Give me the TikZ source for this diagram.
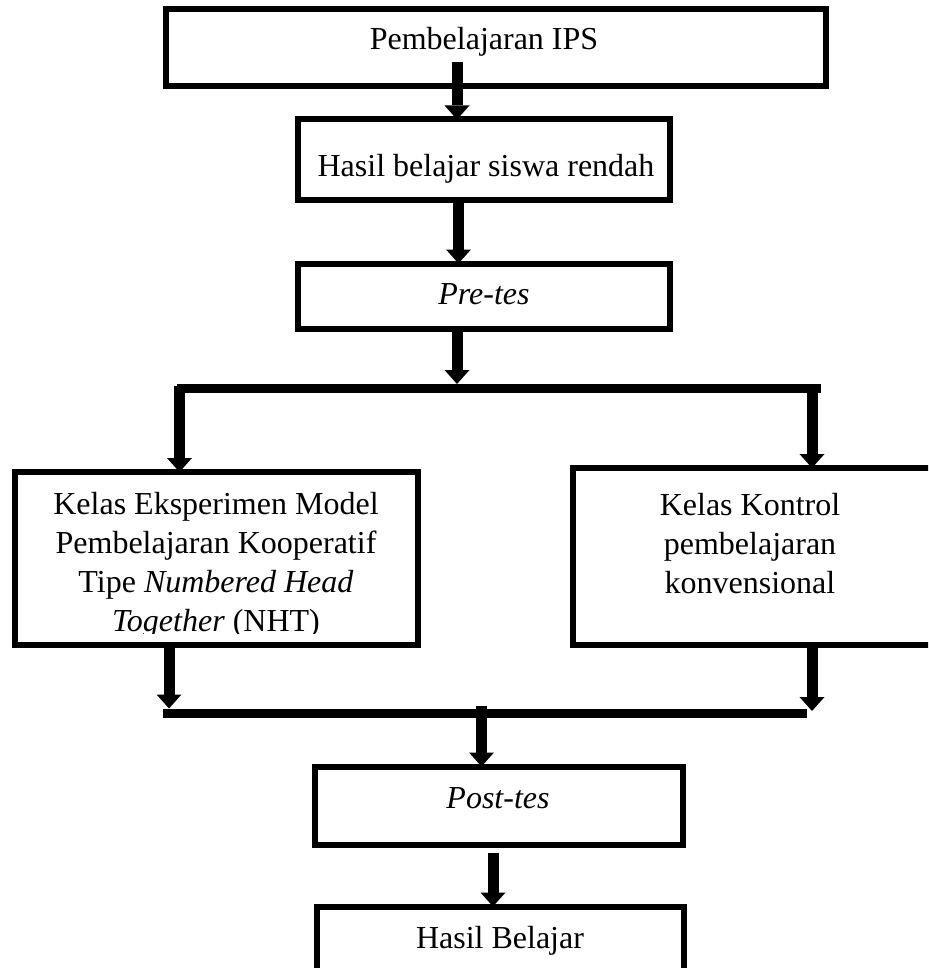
\documentclass[tikz,border=0pt]{standalone}
\usepackage{fontspec}
\setmainfont{Liberation Serif}
\usetikzlibrary{arrows.meta}
\tikzset{
  box/.style={draw=black, line width=6pt, inner sep=0pt, outer sep=0pt, fill=none},
  lbl/.style={anchor=base, inner sep=0pt, font=\fontsize{32}{39}\selectfont},
  arr/.style={draw=black, line width=11pt, -{Triangle[width=25pt,length=14pt,line width=0pt]}},
  bar/.style={draw=black, line width=9pt, line cap=butt}
}
\begin{document}
\begin{tikzpicture}[x=1pt, y=-1pt]
\useasboundingbox (0,0) rectangle (928,968);
\clip (0,0) rectangle (928,968);
\fill[white] (0,0) rectangle (928,968);

% boxes
\node[box, minimum width=660pt, minimum height=77.5pt] (b1) at (496,47.75) {};
\node[box, minimum width=372pt, minimum height=80.5pt] (b2) at (484,159.75) {};
\node[box, minimum width=372pt, minimum height=65.5pt] (b3) at (484,296.25) {};
\node[box, minimum width=403pt, minimum height=172.5pt] (bl) at (216.5,558.25) {};
\node[box, minimum width=367pt, minimum height=176.5pt] (br) at (756.5,556.25) {};
\node[box, minimum width=368pt, minimum height=78.5pt] (bp) at (499,805.75) {};
\node[box, minimum width=367pt, minimum height=93.5pt] (bh) at (500.5,953.25) {};

% texts
\node[lbl] (t1) at (484,50) {Pembelajaran IPS};
\node[lbl] (t2) at (486,177) {Hasil belajar siswa rendah};
\node[lbl] (t3) at (484,304) {\itshape Pre-tes};
\node[lbl] (kl1) at (216,514) {Kelas Eksperimen Model};
\node[lbl] (kl2) at (216,553) {Pembelajaran Kooperatif};
\node[lbl] (kl3) at (216,592) {Tipe \textit{Numbered Head}};
\begin{scope}
\clip (15,600) rectangle (418,633);
\node[lbl] (kl4) at (216,631) {\textit{Together} (NHT)};
\end{scope}
\node[lbl] (kr1) at (750,515) {Kelas Kontrol};
\node[lbl] (kr2) at (750,554) {pembelajaran};
\node[lbl] (kr3) at (750,593) {konvensional};
\node[lbl] (tp) at (498,808) {\itshape Post-tes};
\node[lbl] (th) at (500,948) {Hasil Belajar};

% junction coordinates
\coordinate (a1s) at (457,62);
\coordinate (a2s) at (458.5,200);
\coordinate (a3s) at (457,329);
\coordinate (barTL) at (177,388.5);
\coordinate (barTR) at (821,388.5);
\coordinate (barBL) at (163,713);
\coordinate (barBR) at (807,713);
\coordinate (dl) at (179.5,386);
\coordinate (dr) at (812,386);
\coordinate (ul) at (169,644.5);
\coordinate (ur) at (812,644.5);
\coordinate (mid) at (481.5,706);
\coordinate (a6s) at (493,853);

% connectors
\draw[arr] (a1s) -- (a1s |- b2.north);
\draw[arr] (a2s) -- (a2s |- b3.north);
\draw[arr] (a3s) -- (457,384);
\draw[bar] (barTL) -- (barTR);
\draw[arr] (dl) -- (dl |- bl.north);
\draw[arr] (dr) -- (dr |- br.north);
\draw[arr] (ul) -- (169,708.5);
\draw[arr] (ur) -- (812,711);
\draw[bar] (barBL) -- (barBR);
\draw[arr] (mid) -- (mid |- bp.north);
\draw[arr] (a6s) -- (a6s |- bh.north);
\end{tikzpicture}
\end{document}
